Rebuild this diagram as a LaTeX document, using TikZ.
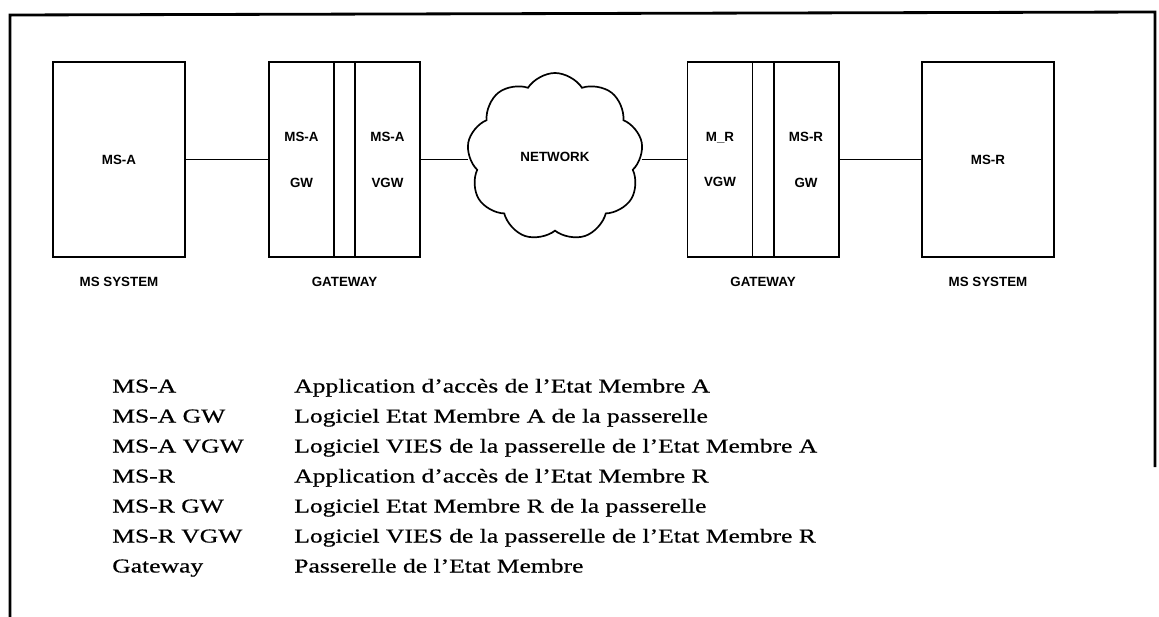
\documentclass[tikz,border=0pt]{standalone}
\usepackage{fontspec}
\setmainfont{Liberation Serif}
\setsansfont{Liberation Sans}
\newfontfamily\legendfont[FakeStretch=1.3,FakeBold=0.6]{Liberation Serif}
\usetikzlibrary{positioning,shapes.symbols}
\tikzset{
  unit/.style={draw, line width=1.4pt, outer sep=0pt, minimum width=3.3cm, minimum height=4.875cm,
    align=center, font=\sffamily\bfseries\fontsize{9.5}{11}\selectfont},
  part/.style={unit, minimum width=1.625cm},
  gap/.style={draw, line width=1.4pt, outer sep=0pt, minimum width=0.525cm, minimum height=4.875cm},
  caption/.style={font=\sffamily\bfseries\fontsize{9.5}{11}\selectfont},
  link/.style={line width=1.4pt},
  entry/.style={anchor=base west, inner sep=0pt, font=\legendfont\fontsize{14}{16}\selectfont}
}
\begin{document}
\begin{tikzpicture}[x=0.025cm,y=-0.025cm]
\useasboundingbox (0,0) rectangle (1159,617);
\draw [line width=2pt] (1155,467) -- (1155,12) -- (10,15) -- (10,617);
% member state A
\node[unit] (msa) at (119,159.5) {MS-A};
\node[part] (gwagw) at (301.5,159.5) {MS-A\\[7.6mm]GW};
\node[gap, right=0pt of gwagw] (gwamid) {};
\node[part, right=0pt of gwamid] (gwavgw) {MS-A\\[7.6mm]VGW};
% network
\node[draw, line width=1.2pt, shape=cloud, cloud puffs=9, cloud puff arc=115, aspect=1.05,
  minimum width=4.4cm, minimum height=4.2cm, font=\sffamily\bfseries\fontsize{9.5}{11}\selectfont]
  (net) at (555,157) {NETWORK};
% member state R
\node[part] (gwrvgw) at (720,159.5) {M\_R\\[7.6mm]VGW};
\node[gap, right=0pt of gwrvgw] (gwrmid) {};
\node[part, right=0pt of gwrmid] (gwrgw) {MS-R\\[7.6mm]GW};
\node[unit] (msr) at (988,159.5) {MS-R};
\node[caption, below=0.38cm of msa] (msasys) {MS SYSTEM};
\node[caption, below=0.38cm of gwamid] (gwacap) {GATEWAY};
\node[caption, below=0.38cm of gwrmid] (gwrcap) {GATEWAY};
\node[caption, below=0.38cm of msr] (msrsys) {MS SYSTEM};
\draw[link] (msa) -- (gwagw);
\draw[link] (gwavgw.east) -- (net.west |- gwavgw.east);
\draw[link] (net.east |- gwrvgw.west) -- (gwrvgw.west);
\draw[link] (gwrgw) -- (msr);
% legend
\foreach \abbr/\desc [count=\i from 0] in {
  MS-A/Application d’accès de l’Etat Membre A,
  MS-A GW/Logiciel Etat Membre A de la passerelle,
  MS-A VGW/Logiciel VIES de la passerelle de l’Etat Membre A,
  MS-R/Application d’accès de l’Etat Membre R,
  MS-R GW/Logiciel Etat Membre R de la passerelle,
  MS-R VGW/Logiciel VIES de la passerelle de l’Etat Membre R,
  Gateway/Passerelle de l’Etat Membre}{
  \node[entry] (abbr\i) at (112,{392.5+30*\i}) {\abbr};
  \node[entry] (desc\i) at (294,{392.5+30*\i}) {\desc};
}
\end{tikzpicture}
\end{document}
